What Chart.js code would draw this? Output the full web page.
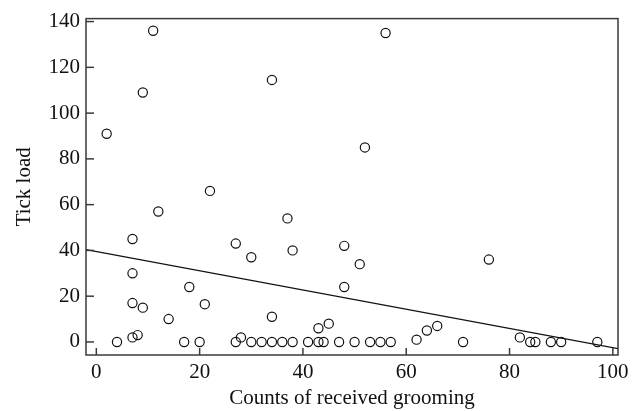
<!DOCTYPE html>
<html>
<head>
<meta charset="utf-8">
<script src="https://cdn.jsdelivr.net/npm/chart.js@4"></script>
<style>
  html, body { margin: 0; padding: 0; background: #fff; }
  #wrap { width: 644px; height: 411px; }
</style>
</head>
<body>
<div id="wrap"><canvas id="chart" width="644" height="411"></canvas></div>
<script>
// grooming counts (x) and tick load (y)
var groomX = [11, 9, 2, 34, 22, 56, 52, 12, 7, 27, 37, 38, 30, 48, 51, 7, 18, 48, 7, 9, 21, 14, 34, 45, 43, 7, 8, 28, 76, 62, 64, 66, 82,
              4, 17, 20, 27, 30, 32, 34, 36, 38, 41, 43, 44, 47, 50, 53, 55, 57, 71, 84, 85, 88, 90, 97];
var tickLoad = [136, 109, 91, 114.5, 66, 135, 85, 57, 45, 43, 54, 40, 37, 42, 34, 30, 24, 24, 17, 15, 16.5, 10, 11, 8, 6, 2, 3, 2, 36, 1, 5, 7, 2,
                0, 0, 0, 0, 0, 0, 0, 0, 0, 0, 0, 0, 0, 0, 0, 0, 0, 0, 0, 0, 0, 0, 0];
var xTicks = [0, 20, 40, 60, 80, 100];
var yTicks = [0, 20, 40, 60, 80, 100, 120, 140];
// fitted line
var intercept = 39.5;
var slope = -0.42;

var xMin = -2, xMax = 101, yMin = -5.7, yMax = 141.3;

var points = groomX.map(function (x, i) { return { x: x, y: tickLoad[i] }; });
var fitLine = [xMin, xMax].map(function (x) { return { x: x, y: intercept + slope * x }; });

// frame and inward tick marks
var frameTicks = {
    id: 'frameTicks',
    afterDraw: function (chart) {
        var ctx = chart.ctx;
        var a = chart.chartArea;
        ctx.save();
        ctx.strokeStyle = '#3a3a3a';
        ctx.lineWidth = 1.5;
        ctx.strokeRect(a.left, a.top, a.right - a.left, a.bottom - a.top);
        xTicks.forEach(function (v) {
            var px = chart.scales.x.getPixelForValue(v);
            ctx.beginPath();
            ctx.moveTo(px, a.bottom);
            ctx.lineTo(px, a.bottom - 7);
            ctx.stroke();
        });
        yTicks.forEach(function (v) {
            var py = chart.scales.y.getPixelForValue(v);
            ctx.beginPath();
            ctx.moveTo(a.left, py);
            ctx.lineTo(a.left + 8, py);
            ctx.stroke();
        });
        ctx.restore();
    }
};

var font = { family: '"Liberation Serif", "DejaVu Serif", serif', size: 21 };

new Chart(document.getElementById('chart').getContext('2d'), {
    type: 'scatter',
    data: {
        datasets: [{
            data: points,
            pointRadius: 4.6,
            pointBorderWidth: 1.2,
            pointBorderColor: '#111',
            pointBackgroundColor: 'rgba(0,0,0,0)',
            pointHoverRadius: 4.6
        }, {
            type: 'line',
            data: fitLine,
            borderColor: '#111',
            borderWidth: 1.3,
            pointRadius: 0,
            fill: false
        }]
    },
    options: {
        responsive: false,
        animation: false,
        layout: { padding: { left: 0, top: 17, right: 26, bottom: 0 } },
        plugins: { legend: { display: false }, tooltip: { enabled: false } },
        scales: {
            x: {
                type: 'linear',
                min: xMin,
                max: xMax,
                afterFit: function (s) { s.height = 56; },
                afterBuildTicks: function (s) { s.ticks = xTicks.map(function (v) { return { value: v }; }); },
                grid: { drawOnChartArea: false, drawTicks: false },
                border: { display: false },
                ticks: { font: font, color: '#111', padding: 5, maxRotation: 0 },
                title: { display: true, text: 'Counts of received grooming', font: font, color: '#111', padding: { top: 0, bottom: 0 } }
            },
            y: {
                min: yMin,
                max: yMax,
                afterFit: function (s) { s.width = 86; },
                afterBuildTicks: function (s) { s.ticks = yTicks.map(function (v) { return { value: v }; }); },
                grid: { drawOnChartArea: false, drawTicks: false },
                border: { display: false },
                ticks: { font: font, color: '#111', padding: 6 },
                title: { display: true, text: 'Tick load', font: font, color: '#111', padding: { top: 12, bottom: 0 } }
            }
        }
    },
    plugins: [frameTicks]
});
</script>
</body>
</html>
